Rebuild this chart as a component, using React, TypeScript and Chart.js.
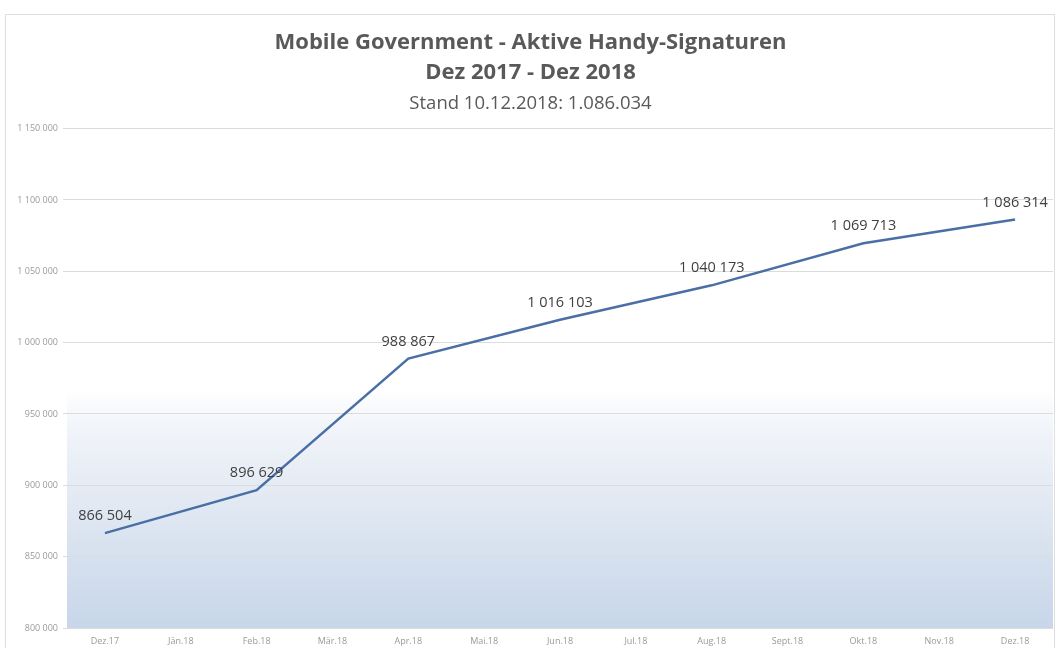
import React, { useEffect, useRef } from "react";
import { Chart, registerables } from "chart.js";

Chart.register(...registerables);

const categories = ["Dez.17", "Jän.18", "Feb.18", "Mär.18", "Apr.18", "Mai.18", "Jun.18", "Jul.18", "Aug.18", "Sept.18", "Okt.18", "Nov.18", "Dez.18"];
const signatures: (number | null)[] = [866504, null, 896629, null, 988867, null, 1016103, null, 1040173, null, 1069713, null, 1086314];
const titleLines = ["Mobile Government - Aktive Handy-Signaturen", "Dez 2017 - Dez 2018"];
const subtitleText = "Stand 10.12.2018: 1.086.034";
const yMin = 800000;
const yMax = 1150000;
const yStep = 50000;

const FONT = "'Open Sans', Lato, sans-serif";
const fmt = (v: number) => String(Math.round(v)).replace(/\B(?=(\d{3})+(?!\d))/g, " ");

const bgPlugin = {
  id: "bgGradient",
  beforeDraw(chart: any) {
    const { ctx, chartArea } = chart;
    if (!chartArea) return;
    const g = ctx.createLinearGradient(0, chartArea.top, 0, chartArea.bottom);
    g.addColorStop(0, "#ffffff");
    g.addColorStop(0.52, "#ffffff");
    g.addColorStop(0.6, "#f1f4f9");
    g.addColorStop(1, "#c7d6e9");
    ctx.save();
    ctx.fillStyle = g;
    ctx.fillRect(chartArea.left, chartArea.top, chartArea.right - chartArea.left, chartArea.bottom - chartArea.top);
    ctx.restore();
  },
};

const labelPlugin = {
  id: "pointLabels",
  afterDatasetsDraw(chart: any) {
    const { ctx } = chart;
    const meta = chart.getDatasetMeta(0);
    const data = chart.data.datasets[0].data as (number | null)[];
    ctx.save();
    ctx.font = "14.5px " + FONT;
    ctx.fillStyle = "#404040";
    ctx.textAlign = "center";
    ctx.textBaseline = "middle";
    meta.data.forEach((pt: any, i: number) => {
      const v = data[i];
      if (v == null) return;
      ctx.fillText(fmt(v), pt.x, pt.y - 17);
    });
    ctx.restore();
  },
};

export default function App() {
  const ref = useRef<HTMLCanvasElement | null>(null);
  useEffect(() => {
    if (!ref.current) return;
    const chart = new Chart(ref.current, {
      type: "line",
      data: {
        labels: categories,
        datasets: [
          {
            data: signatures,
            borderColor: "#4a6fa5",
            borderWidth: 2.5,
            pointRadius: 0,
            spanGaps: true,
            tension: 0,
            fill: false,
          },
        ],
      },
      options: {
        animation: false,
        responsive: true,
        maintainAspectRatio: false,
        layout: { padding: { top: 14, left: 8, right: 6, bottom: 0 } },
        plugins: {
          legend: { display: false },
          tooltip: { enabled: false },
          title: {
            display: true,
            text: titleLines,
            color: "#595959",
            font: { family: FONT, size: 22, weight: "bold", lineHeight: 1.4 },
            padding: { top: 13, bottom: 0 },
          },
          subtitle: {
            display: true,
            text: subtitleText,
            color: "#595959",
            font: { family: FONT, size: 18.5, lineHeight: 1.3 },
            padding: { top: 3, bottom: 13 },
          },
        },
        scales: {
          x: {
            offset: true,
            grid: { display: false },
            border: { display: false },
            afterFit: (s: any) => { s.height = 20; },
            ticks: { color: "#9a9a9a", font: { family: FONT, size: 9 }, maxRotation: 0, autoSkip: false, padding: 0 },
          },
          y: {
            min: yMin,
            max: yMax,
            border: { display: false },
            afterFit: (s: any) => { s.width = 59; },
            grid: { color: "#dcdcdc", tickLength: 4 },
            ticks: {
              stepSize: yStep,
              color: "#9a9a9a",
              font: { family: FONT, size: 9 },
              padding: 5,
              callback: (v: any) => fmt(Number(v)),
            },
          },
        },
      },
      plugins: [bgPlugin, labelPlugin],
    });
    return () => chart.destroy();
  }, []);
  return (
    <div style={{ position: "fixed", left: 0, top: 0, width: 1059, height: 648, background: "#ffffff" }}>
      <div style={{ position: "absolute", left: 5, top: 14, width: 1050, height: 640, border: "1px solid #dedede", boxSizing: "border-box" }} />
      <canvas ref={ref} style={{ position: "absolute", left: 0, top: 0 }} />
    </div>
  );
}
